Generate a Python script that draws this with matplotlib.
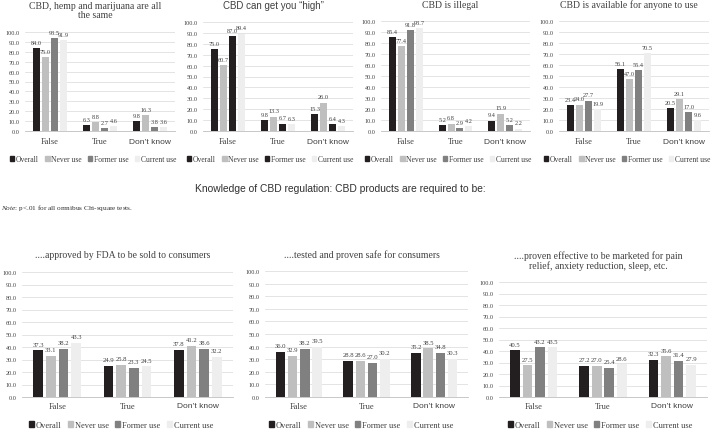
import matplotlib
matplotlib.use("Agg")
import matplotlib.pyplot as plt
from matplotlib.patches import Patch
import numpy as np

W, H = 714, 439

categories = ["False", "True", "Don’t know"]
groups = ["Overall", "Never use", "Former use", "Current use"]

# values per group: [False, True, Don't know]
hemp_same = [[84.0, 6.3, 9.8], [75.0, 8.8, 16.3], [93.5, 2.7, 3.8], [91.9, 4.6, 3.6]]
get_high = [[75.0, 9.8, 15.3], [60.7, 13.3, 26.0], [87.0, 6.7, 6.4], [89.4, 6.3, 4.3]]
illegal = [[85.4, 5.2, 9.4], [77.4, 6.8, 15.9], [91.8, 2.9, 5.2], [93.7, 4.2, 2.2]]
available = [[23.4, 56.1, 20.5], [24.0, 47.0, 29.1], [27.7, 55.4, 17.0], [19.9, 70.5, 9.6]]
fda_approved = [[37.3, 24.9, 37.8], [33.1, 25.8, 41.2], [38.2, 23.3, 38.6], [43.3, 24.5, 32.2]]
proven_safe = [[36.0, 28.8, 35.2], [32.9, 28.6, 38.5], [38.2, 27.0, 34.8], [39.5, 30.2, 30.3]]
proven_effective = [[40.5, 27.2, 32.3], [27.5, 27.0, 35.6], [43.2, 25.4, 31.4], [43.5, 28.6, 27.9]]

colors_std = ["#231f20", "#bfbfbf", "#808080", "#eeeeee"]
colors_dark = ["#231f20", "#bfbfbf", "#231f20", "#eeeeee"]

SERIF = "Liberation Serif"
SANS = "Liberation Sans"

plt.rcParams["mathtext.fontset"] = "custom"
plt.rcParams["mathtext.rm"] = SERIF
plt.rcParams["mathtext.it"] = SERIF + ":italic"

fig = plt.figure(figsize=(W / 100, H / 100), dpi=100)


def px(x, y):
    return x / W, 1 - y / H


def draw_panel(left, right, top, bottom, data, colors, title, title_y, title_family,
               label_size, cat_y, leg_x, leg_y, leg_size, title_size=7):
    ax = fig.add_axes([left / W, 1 - bottom / H, (right - left) / W, (bottom - top) / H])
    x = np.arange(len(categories))
    step, width = 0.18, 0.14
    for i, (vals, c) in enumerate(zip(data, colors)):
        pos = x + (i - 1.5) * step
        ax.bar(pos, vals, width, color=c, zorder=3)
        for p, v in zip(pos, vals):
            ax.text(p, v + 3, f"{v:.1f}", ha="center", va="bottom",
                    fontsize=label_size, family=SERIF, color="#404040", zorder=4)
    ax.set_xlim(-0.5, 2.5)
    ax.set_ylim(0, 100)
    ax.set_yticks(np.arange(0, 101, 10))
    ax.set_yticklabels([f"{t:.1f}" for t in range(0, 101, 10)], fontsize=4.5, family=SERIF,
                       color="#404040")
    ax.set_xticks([])
    ax.grid(axis="y", color="#d9d9d9", linewidth=0.5, zorder=0)
    ax.tick_params(axis="y", length=0, pad=4)
    for s in ["top", "right", "left"]:
        ax.spines[s].set_visible(False)
    ax.spines["bottom"].set_color("#bfbfbf")
    ax.spines["bottom"].set_linewidth(0.6)
    # category labels
    cw = (right - left) / 3
    for i, cat in enumerate(categories):
        fam = SANS if cat.startswith("Don") else SERIF
        fig.text(*px(left + cw * (i + 0.5), cat_y), cat, ha="center", va="center",
                 fontsize=6, family=fam, color="#404040")
    # title
    fig.text(*px((left + right) / 2 - 5, title_y), title, ha="center", va="center",
             fontsize=title_size, family=title_family, color="#404040", linespacing=1.1)
    handles = [Patch(color=c) for c in colors]
    fig.legend(handles, groups, loc="center", bbox_to_anchor=px(leg_x, leg_y), ncol=4,
               frameon=False, handlelength=0.6, handleheight=0.6, handletextpad=0.2,
               columnspacing=0.8, prop={"family": SERIF, "size": leg_size},
               labelcolor="#404040", borderpad=0)
    return ax


draw_panel(25, 175, 33, 132, hemp_same, colors_std,
           "CBD, hemp and marijuana are all\nthe same", 11, SERIF, 4.5, 142, 93, 160, 5.5)
draw_panel(203, 353, 23, 132, get_high, colors_dark,
           "CBD can get you “high”", 6, SANS, 4.5, 142, 270, 160, 5.5)
draw_panel(381, 530, 22, 132, illegal, colors_std,
           "CBD is illegal", 5, SERIF, 4.5, 142, 448, 160, 5.5)
draw_panel(559, 709, 22, 132, available, colors_std,
           "CBD is available for anyone to use", 5, SERIF, 4.5, 142, 627, 160, 5.5)

draw_panel(22, 233, 273, 398, fda_approved, colors_std,
           "....approved by FDA to be sold to consumers", 256, SERIF, 4.8, 407, 121, 426, 6)
draw_panel(265, 468, 272, 398, proven_safe, colors_std,
           "....tested and proven safe for consumers", 255, SERIF, 4.8, 407, 361, 426, 6)
draw_panel(499, 707, 283, 398, proven_effective, colors_std,
           "....proven effective to be marketed for pain\nrelief, anxiety reduction, sleep, etc.",
           261, SERIF, 4.8, 407, 600, 426, 6)

fig.text(*px(340, 189), "Knowledge of CBD regulation: CBD products are required to be:",
         ha="center", va="center", fontsize=7.4, family=SANS, color="#303030")
fig.text(*px(1, 208), r"$\it{Note}$: p<.01 for all omnibus Chi-square tests.", ha="left",
         va="center", fontsize=5.2, family=SERIF, color="#303030")

fig.savefig("out.png", dpi=100, facecolor="white")
